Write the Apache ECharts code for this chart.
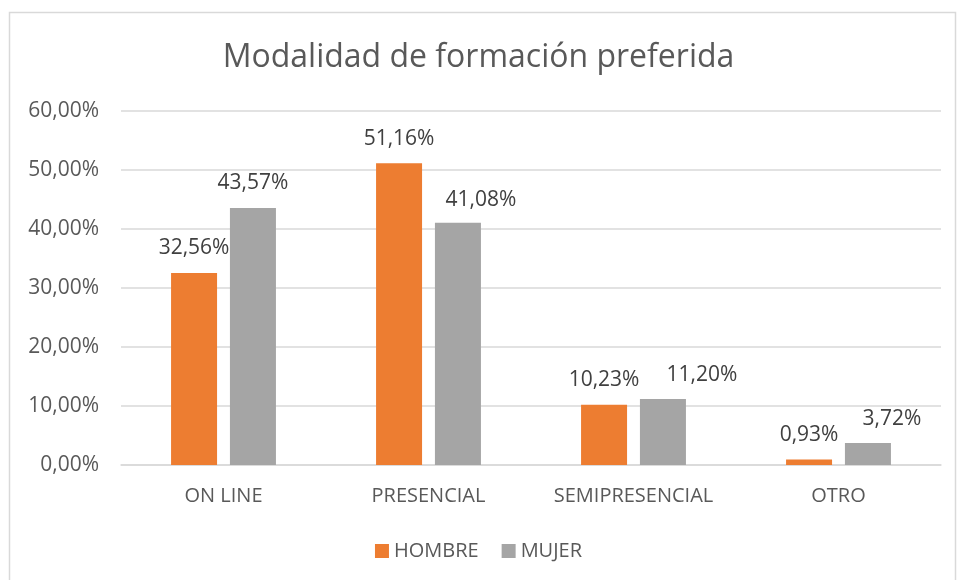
<!DOCTYPE html>
<html>
<head>
<meta charset="utf-8">
<script src="https://cdn.jsdelivr.net/npm/echarts@6/dist/echarts.min.js"></script>
<style>
  html, body { margin: 0; padding: 0; background: #fff; }
  #chart { width: 957px; height: 580px; }
</style>
</head>
<body>
<div id="chart"></div>
<script>
// datos del gráfico
const categorias = ['ON LINE', 'PRESENCIAL', 'SEMIPRESENCIAL', 'OTRO'];
const hombre = [32.56, 51.16, 10.23, 0.93];
const mujer = [43.57, 41.08, 11.20, 3.72];
const series_nombres = ['HOMBRE', 'MUJER'];

const fuente = 'Open Sans';

function pct(v) {
    return v.toFixed(2).replace('.', ',') + '%';
}

// algunas etiquetas de MUJER están desplazadas a la derecha en el original
const desplazamientoMujer = [[0, 0], [23, 2], [39, 1], [24, 0]];

window.addEventListener('DOMContentLoaded', function() {
    const myChart = echarts.init(document.getElementById('chart'));

    const etiqueta = {
        show: true,
        position: 'top',
        distance: 14,
        fontFamily: fuente,
        fontSize: 21,
        color: '#404040',
        formatter: function(p) { return pct(p.value); }
    };

    const datosMujer = mujer.map((v, i) => ({
        value: v,
        label: { offset: desplazamientoMujer[i] }
    }));

    const option = {
        backgroundColor: '#fff',
        animation: false,
        textStyle: { fontFamily: fuente },
        title: {
            text: 'Modalidad de formación preferida',
            left: 'center',
            top: 37,
            textStyle: {
                fontFamily: fuente,
                fontSize: 32,
                fontWeight: 'normal',
                color: '#595959'
            }
        },
        graphic: [
            {
                type: 'rect',
                shape: { x: 9.5, y: 12.5, width: 946, height: 600 },
                style: { fill: 'none', stroke: '#d9d9d9', lineWidth: 1.5 },
                silent: true
            }
        ],
        legend: {
            data: series_nombres,
            bottom: 14,
            left: 'center',
            itemWidth: 14,
            itemHeight: 14,
            itemGap: 23,
            icon: 'rect',
            textStyle: { fontFamily: fuente, fontSize: 20, color: '#595959' }
        },
        grid: {
            left: 121,
            right: 16,
            top: 111,
            bottom: 115
        },
        xAxis: {
            type: 'category',
            data: categorias,
            axisTick: { show: false },
            axisLine: { lineStyle: { color: '#d9d9d9', width: 1.5 } },
            axisLabel: {
                interval: 0,
                fontFamily: fuente,
                fontSize: 20,
                color: '#595959',
                margin: 21
            }
        },
        yAxis: {
            type: 'value',
            min: 0,
            max: 60,
            interval: 10,
            axisLine: { show: false },
            axisTick: { show: false },
            splitLine: { lineStyle: { color: '#d9d9d9', width: 1.5 } },
            axisLabel: {
                fontFamily: fuente,
                fontSize: 21,
                color: '#595959',
                margin: 22,
                formatter: function(v) { return pct(v); }
            }
        },
        series: [
            {
                name: series_nombres[0],
                type: 'bar',
                data: hombre,
                barWidth: 46,
                barGap: '28%',
                itemStyle: { color: '#ed7d31' },
                label: etiqueta
            },
            {
                name: series_nombres[1],
                type: 'bar',
                data: datosMujer,
                barWidth: 46,
                itemStyle: { color: '#a5a5a5' },
                label: etiqueta
            }
        ]
    };

    myChart.setOption(option);
    window.addEventListener('resize', () => myChart.resize());
});
</script>
</body>
</html>
